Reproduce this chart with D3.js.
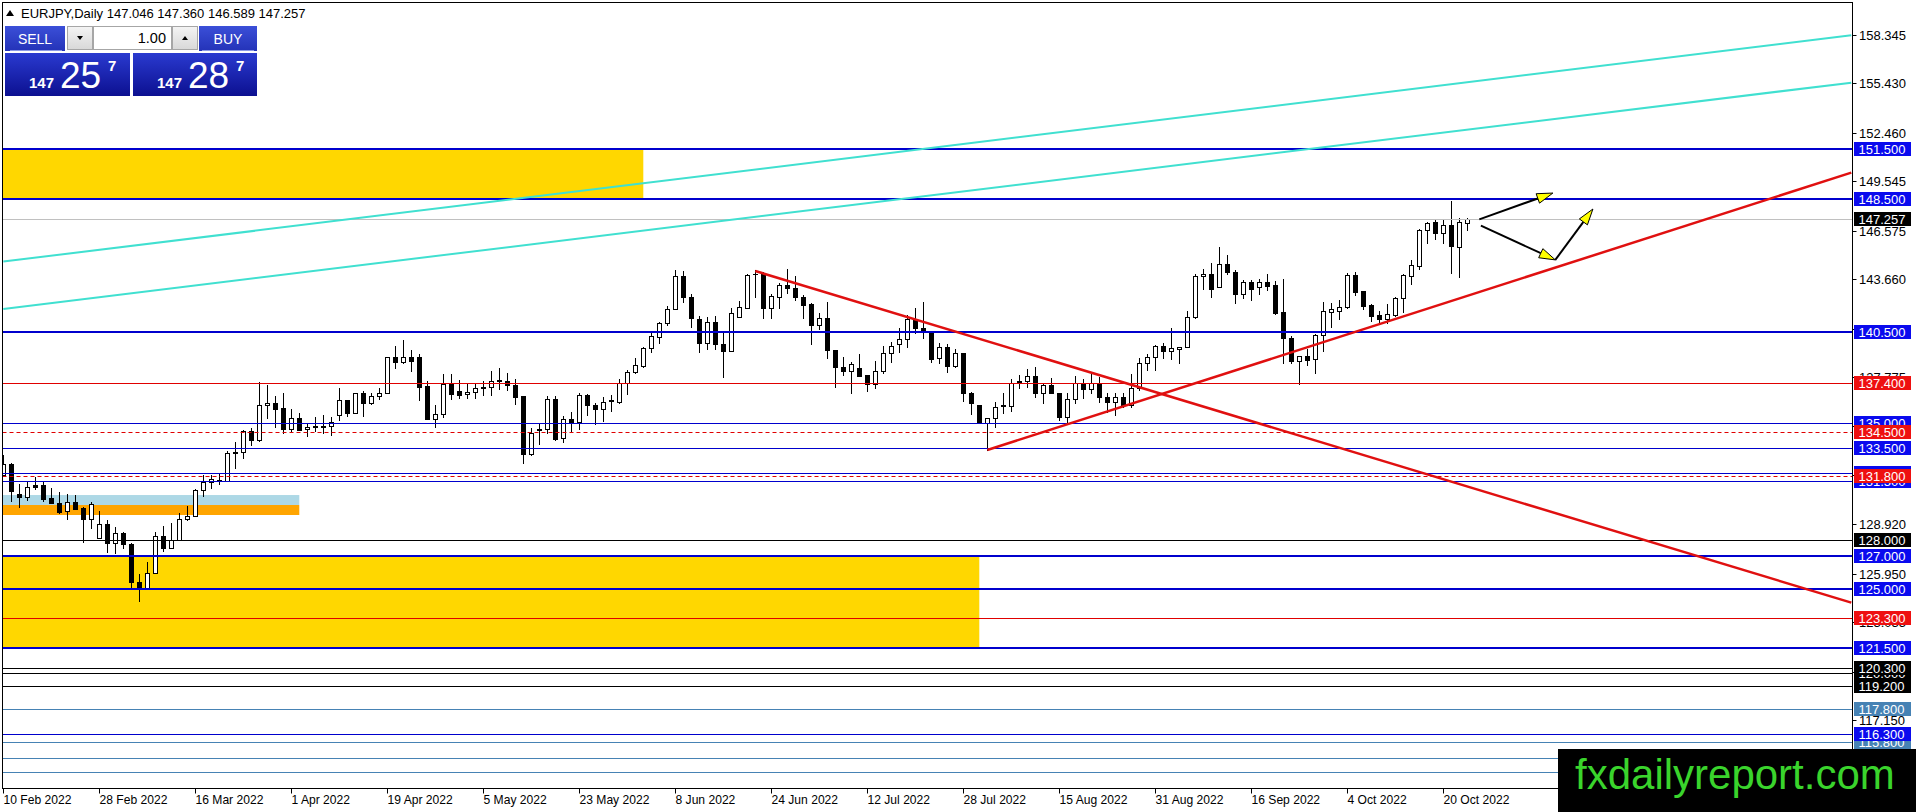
<!DOCTYPE html>
<html><head><meta charset="utf-8">
<script src="https://cdn.jsdelivr.net/npm/d3@7"></script>
<style>
html,body{margin:0;padding:0;background:#fff;overflow:hidden}
svg{display:block}
text{font-family:Tahoma,"Liberation Sans",Arial,sans-serif}
</style></head><body>
<svg id="c" width="1916" height="812"></svg>
<script>
// ---------- DATA ----------
const symbolTitle = "EURJPY,Daily";
const lastOHLC = ["147.046","147.360","146.589","147.257"];
const dateLabels = ["10 Feb 2022","28 Feb 2022","16 Mar 2022","1 Apr 2022","19 Apr 2022","5 May 2022","23 May 2022","8 Jun 2022","24 Jun 2022","12 Jul 2022","28 Jul 2022","15 Aug 2022","31 Aug 2022","16 Sep 2022","4 Oct 2022","20 Oct 2022"];
const barsPerDateLabel = 12;
const priceTicks = [158.345,155.430,152.460,149.545,146.575,143.660,140.690,137.775,134.805,131.890,128.920,125.950,123.035,120.065,117.150];

const opens = [131.89,132.55,130.74,130.54,131.28,131.28,130.5,130.18,129.72,130.26,
129.92,129.22,128.12,128.92,127.78,128.38,127.72,125.47,125.07,125.97,
128.24,127.52,127.98,129.26,129.44,130.98,131.48,131.58,131.55,133.29,
133.25,134.53,133.99,136.08,136.2,135.92,134.63,135.29,134.63,134.83,
134.8,134.83,135.5,136.4,135.63,136.8,136.24,136.66,136.84,138.96,
138.7,139.0,138.96,137.24,135.24,135.54,137.34,136.96,136.76,136.86,
137.16,137.16,137.54,137.52,137.28,136.64,133.13,134.6,134.63,136.44,
134.09,135.24,135.1,136.7,136.1,135.84,136.34,136.3,137.4,138.06,
138.44,139.5,140.2,141.0,141.85,143.85,142.57,141.25,139.8,141.07,
139.74,139.37,141.37,141.9,143.98,144.0,141.95,142.57,143.31,143.11,
142.57,142.17,140.91,141.31,139.4,138.36,138.16,138.34,137.9,137.34,
138.14,139.2,139.74,140.04,141.2,140.7,140.57,138.9,139.6,138.44,
139.2,136.84,136.1,134.99,135.33,136.1,136.06,137.56,137.56,137.84,
136.84,137.3,136.8,135.4,136.44,137.36,137.04,137.36,136.6,136.3,
136.6,136.1,137.1,138.6,139.0,139.64,139.36,139.44,139.56,141.37,
143.85,144.0,143.17,144.57,144.07,142.77,143.47,143.17,143.47,143.3,
141.67,140.15,138.76,139.04,138.84,140.3,141.71,141.77,141.97,143.9,
142.95,142.1,141.5,141.27,141.51,142.51,143.85,144.47,146.62,147.12,
146.42,146.92,145.58,147.046];
const highs = [133.1,132.6,131.34,131.5,131.79,131.48,131.08,130.88,130.74,130.68,
129.98,130.28,129.72,129.18,128.74,128.46,127.78,125.93,126.67,128.44,
128.82,128.98,129.62,130.04,131.02,131.88,131.88,131.99,133.35,133.89,
134.59,134.73,137.5,137.3,136.64,136.8,135.84,135.63,135.03,135.4,
135.5,135.35,137.1,136.4,136.8,136.96,136.84,137.1,139.0,139.64,
140.0,139.4,139.16,137.56,136.1,137.96,137.96,137.6,137.4,137.44,
137.54,138.14,138.3,138.04,137.64,136.64,134.7,134.99,136.66,136.64,
135.44,135.7,136.8,136.74,136.2,136.6,136.7,137.64,138.2,138.9,
139.56,140.4,141.1,142.05,144.2,144.17,142.77,141.45,141.37,141.45,
140.5,141.9,142.35,144.0,144.2,144.1,142.77,143.45,144.27,143.85,
142.71,142.21,141.61,142.31,139.4,139.0,138.7,139.14,137.9,138.76,
139.64,139.9,140.7,141.5,141.9,142.3,140.57,139.8,139.76,139.44,
139.24,136.9,136.1,135.33,136.3,136.84,137.64,137.9,138.24,138.4,
137.4,137.7,136.84,136.84,137.84,137.64,137.96,137.8,136.84,136.8,
136.8,137.96,138.9,139.16,139.7,139.8,140.7,139.6,141.77,144.0,
144.25,144.65,145.58,145.12,144.2,143.6,143.6,143.65,144.0,143.57,
143.65,140.25,139.04,139.44,140.37,142.3,142.25,142.4,144.05,144.1,
142.95,142.15,141.77,142.17,142.57,144.0,144.8,146.66,147.12,147.22,
147.22,148.36,147.32,147.36];
const lows = [131.8,130.34,129.98,130.38,131.06,130.32,130.18,129.62,129.26,129.86,
127.88,128.68,128.12,127.28,127.22,127.48,125.17,124.33,125.07,125.97,
127.34,127.48,127.98,129.18,129.44,130.64,131.12,131.32,131.55,132.29,
132.89,133.69,133.95,135.3,134.8,134.43,134.55,134.59,134.23,134.55,
134.4,134.29,135.2,135.43,135.63,135.43,136.16,136.44,136.8,138.34,
138.6,138.16,136.4,135.24,134.75,135.35,136.44,136.5,136.52,136.54,
136.7,136.68,137.04,137.0,136.16,132.63,133.09,133.75,134.43,133.99,
133.89,134.5,134.63,135.5,134.93,135.16,135.76,136.2,136.74,138.04,
138.36,139.3,139.8,140.9,141.85,142.3,140.77,139.3,139.44,139.44,
137.8,139.37,141.37,141.9,142.6,141.35,141.35,141.95,142.81,142.41,
141.31,139.74,140.65,138.9,137.2,137.9,136.8,137.84,136.96,137.1,
138.0,138.7,139.3,139.6,140.4,140.1,138.7,138.6,138.06,138.4,
136.34,135.56,134.99,133.39,134.8,135.6,135.75,137.1,137.2,136.56,
136.24,136.8,135.2,135.1,136.2,136.5,136.8,136.3,135.7,135.5,
136.0,136.0,137.0,138.2,138.2,138.9,138.84,138.64,139.56,141.3,
143.1,142.57,143.17,144.0,142.25,142.5,142.4,142.77,143.0,141.57,
138.64,138.64,137.36,138.5,138.0,139.37,140.77,141.27,141.9,142.7,
141.85,141.17,141.07,141.0,141.45,141.7,143.37,144.27,145.82,146.06,
145.82,144.05,143.77,146.589];
const closes = [132.55,130.94,130.54,131.18,131.18,130.46,130.18,129.68,130.26,129.86,
129.22,130.14,128.92,127.78,128.38,127.72,125.47,125.07,125.97,128.24,
127.52,127.98,129.26,129.44,130.98,131.48,131.62,131.55,133.23,133.19,
134.53,133.99,136.08,136.2,135.88,134.63,135.29,134.59,134.79,134.75,
134.83,135.09,136.4,135.63,136.8,136.24,136.66,136.84,138.96,138.7,
139.0,138.76,137.16,135.24,135.54,137.34,136.76,136.72,136.88,137.1,
137.1,137.56,137.6,137.28,136.6,133.13,134.43,134.66,136.44,134.05,
135.24,135.04,136.7,136.1,135.84,136.3,136.38,137.44,138.08,138.48,
139.52,140.24,141.0,141.85,143.85,142.57,141.31,139.8,141.07,139.74,
139.37,141.61,141.97,143.9,143.95,141.95,142.65,143.3,143.11,142.57,
142.11,140.91,141.31,139.4,138.36,138.16,138.54,137.84,137.34,138.14,
139.2,139.64,140.04,141.25,140.7,140.47,138.84,139.6,138.46,139.2,
136.84,136.2,134.99,135.33,135.99,136.06,137.4,137.5,137.84,136.84,
137.3,136.8,135.4,136.44,137.4,137.04,137.44,136.6,136.3,136.6,
136.1,137.1,138.6,139.0,139.64,139.36,139.52,139.6,141.37,143.85,
144.0,143.1,144.57,144.07,142.77,143.47,143.1,143.47,143.27,141.65,
140.1,138.76,139.04,138.8,140.3,141.75,141.87,142.0,143.9,142.9,
142.05,141.47,141.27,141.55,142.51,143.9,144.5,146.62,147.06,146.42,
146.92,145.68,147.08,147.257];

// horizontal levels by kind
const blueThickLevels = [151.5,148.5,140.5,127,125,121.5];
const blueThinLevels = [135,133.5,132,131.5,116.3];
const redLevels = [137.4,123.3];
const redDashedLevels = [134.5,131.8];
const blackLevels = [128,120.0,120.3,119.2];
const steelLevels = [117.8,115.8,114.85,114.0];
const steelLabelled = [117.8,115.8];
const currentPrice = 147.257;

// zones: [fromBar, toBar, topPrice, bottomPrice]
const goldZones = [[-2,80,151.5,148.5],[-2,122,127.0,121.5]];
const lightBlueZone = [-2,37,130.68,130.08];
const orangeZone = [-2,37,130.08,129.48];

// trend lines: [[bar, price],[bar, price]]
const tealLines = [[[0,144.72],[231,158.33]],[[0,141.87],[231,155.48]]];
const redTrendLines = [[[94,144.15],[231,124.21]],[[123,133.39],[231,150.07]]];
const arrows = [[[184.5,147.26],[193.7,148.84]],[[184.7,146.88],[194.0,144.82]],[[194.0,144.82],[198.7,147.88]]];

// trade panel
const sellPrice = ["147","25","7"];
const buyPrice = ["147","28","7"];
const lotSize = "1.00";
const watermark = "fxdailyreport.com";

// ---------- DRAW ----------
const svg = d3.select("#c");
const L = 2.5, T = 2.5, R = 1852.5, B = 788.5;
const x = d3.scaleLinear().domain([0, 231]).range([3.3, 1851.3]);
const y = d3.scaleLinear().domain([158.345, 128.92]).range([35, 524.3]);
const px = v => Math.round(v) + 0.5;

svg.append("rect").attr("width",1916).attr("height",812).attr("fill","#fff");
svg.append("defs").append("clipPath").attr("id","plot")
  .append("rect").attr("x",L).attr("y",T).attr("width",R-L).attr("height",B-T);

const plot = svg.append("g").attr("clip-path","url(#plot)");

// zones
goldZones.forEach(z => plot.append("rect")
  .attr("x", x(z[0])).attr("y", y(z[2])).attr("width", x(z[1]) - x(z[0])).attr("height", y(z[3]) - y(z[2]))
  .attr("fill","#FFD700"));
[[lightBlueZone,"#ADD8E6"],[orangeZone,"#FFA500"]].forEach(([z,c]) => plot.append("rect")
  .attr("x", x(z[0])).attr("y", y(z[2])).attr("width", x(z[1]) - x(z[0])).attr("height", y(z[3]) - y(z[2]))
  .attr("fill", c));

// candles
const bars = d3.range(opens.length).map(i => ({i, o:opens[i], h:highs[i], l:lows[i], c:closes[i]}));
const cg = plot.append("g");
bars.forEach(b => {
  const cx = px(x(b.i));
  cg.append("line").attr("x1",cx).attr("x2",cx)
    .attr("y1", Math.round(y(b.h))).attr("y2", Math.round(y(b.l)) + 1)
    .attr("stroke","#000").attr("stroke-width",1);
  const top = Math.round(y(Math.max(b.o,b.c))) + 0.5;
  const bot = Math.round(y(Math.min(b.o,b.c))) + 0.5;
  if (bot - top < 1) {
    cg.append("line").attr("x1",cx-2.5).attr("x2",cx+2.5).attr("y1",top).attr("y2",top)
      .attr("stroke","#000").attr("stroke-width",1);
  } else {
    cg.append("rect").attr("x",cx-2).attr("y",top).attr("width",4).attr("height",bot-top)
      .attr("fill", b.c >= b.o ? "#fff" : "#000").attr("stroke","#000").attr("stroke-width",1);
  }
});

// horizontal lines
const hl = (levels, color, w, dash) => levels.forEach(p => {
  const yy = w % 2 === 1 ? px(y(p)) : Math.round(y(p));
  plot.append("line").attr("x1",L).attr("x2",R).attr("y1",yy).attr("y2",yy)
    .attr("stroke",color).attr("stroke-width",w).attr("stroke-dasharray",dash||null);
});
hl([currentPrice], "#c0c0c0", 1);
hl(steelLevels, "#4682b4", 1);
hl(blackLevels, "#000", 1);
hl(blueThinLevels, "#0000cd", 1);
hl(blueThickLevels, "#0000cd", 2);
hl(redLevels, "#e00000", 1);
hl(redDashedLevels, "#e00000", 1, "4,3");

// trend lines
const lineGen = d3.line().x(d => x(d[0])).y(d => y(d[1]));
tealLines.forEach(l => plot.append("path").attr("d", lineGen(l)).attr("fill","none")
  .attr("stroke","#40E0D0").attr("stroke-width",2));
redTrendLines.forEach(l => plot.append("path").attr("d", lineGen(l)).attr("fill","none")
  .attr("stroke","#e01010").attr("stroke-width",2.5));

// arrows
arrows.forEach(a => {
  const x1 = x(a[0][0]), y1 = y(a[0][1]), x2 = x(a[1][0]), y2 = y(a[1][1]);
  const dx = x2-x1, dy = y2-y1, len = Math.hypot(dx,dy), ux = dx/len, uy = dy/len;
  const hl_ = 16, hw = 5;
  const bx = x2 - ux*hl_, by = y2 - uy*hl_;
  plot.append("line").attr("x1",x1).attr("y1",y1).attr("x2",bx).attr("y2",by)
    .attr("stroke","#000").attr("stroke-width",2);
  plot.append("path").attr("d", `M${x2},${y2}L${bx - uy*hw},${by + ux*hw}L${bx + uy*hw},${by - ux*hw}Z`)
    .attr("fill","#ffff00").attr("stroke","#000").attr("stroke-width",1);
});

// frame
svg.append("rect").attr("x",L).attr("y",T).attr("width",R-L).attr("height",B-T)
  .attr("fill","none").attr("stroke","#000").attr("stroke-width",1);

// price axis ticks
const axisG = svg.append("g");
priceTicks.forEach(p => {
  const yy = px(y(p));
  axisG.append("line").attr("x1",R).attr("x2",R+4).attr("y1",yy).attr("y2",yy).attr("stroke","#000");
  axisG.append("text").attr("x",1859).attr("y",yy+4.5).attr("font-size",13).attr("fill","#000").text(p.toFixed(3));
});

// date axis
dateLabels.forEach((lab, k) => {
  const xx = px(x(k * barsPerDateLabel));
  axisG.append("line").attr("x1",xx).attr("x2",xx).attr("y1",B).attr("y2",B+5).attr("stroke","#000");
  axisG.append("text").attr("x",xx).attr("y",804).attr("font-size",12.1).attr("fill","#000").text(lab);
});

// level labels
const lab = (levels, bg) => levels.forEach(p => {
  const yy = y(p);
  axisG.append("rect").attr("x",1854).attr("y",Math.round(yy)-7).attr("width",57).attr("height",14).attr("fill",bg);
  axisG.append("text").attr("x",1858.5).attr("y",Math.round(yy)+4.7).attr("font-size",13).attr("fill","#fff").text(p.toFixed(3));
});
lab(steelLabelled, "#4682b4");
lab([120.0,119.2,128,120.3], "#000");
lab(blueThinLevels.slice().reverse(), "#0a0aee");
lab(blueThickLevels, "#0a0aee");
lab(redLevels, "#ee1010");
lab(redDashedLevels, "#ee1010");
lab([currentPrice], "#000");

// watermark
svg.append("rect").attr("x",1558).attr("y",749).attr("width",358).attr("height",63).attr("fill","#000");
svg.append("text").attr("x",1575).attr("y",789).attr("font-size",42).attr("fill","#3ad42c")
  .style("font-family","'Liberation Sans',Arial,sans-serif").text(watermark);

// header
const hdr = svg.append("g");
hdr.append("path").attr("d","M6,16L10,10L14,16Z").attr("fill","#000");
hdr.append("text").attr("x",21).attr("y",18).attr("font-size",13).attr("fill","#000")
  .text(symbolTitle + "  " + lastOHLC.join(" "));

// trade panel
const defs = svg.select("defs");
const gr = defs.append("linearGradient").attr("id","pbox").attr("x1",0).attr("x2",0).attr("y1",0).attr("y2",1);
gr.append("stop").attr("offset","0%").attr("stop-color","#2a3ad0");
gr.append("stop").attr("offset","100%").attr("stop-color","#0c1090");
const gb = defs.append("linearGradient").attr("id","btn").attr("x1",0).attr("x2",0).attr("y1",0).attr("y2",1);
gb.append("stop").attr("offset","0%").attr("stop-color","#3b4fd8");
gb.append("stop").attr("offset","100%").attr("stop-color","#2433b8");
const ga = defs.append("linearGradient").attr("id","gbtn").attr("x1",0).attr("x2",0).attr("y1",0).attr("y2",1);
ga.append("stop").attr("offset","0%").attr("stop-color","#f4f4f4");
ga.append("stop").attr("offset","100%").attr("stop-color","#d8d8d8");

const tp = svg.append("g");
tp.append("rect").attr("x",3).attr("y",24).attr("width",256).attr("height",73).attr("fill","#fff");
// SELL / BUY buttons
tp.append("rect").attr("x",5).attr("y",26).attr("width",60).attr("height",25).attr("fill","url(#btn)");
tp.append("rect").attr("x",199).attr("y",26).attr("width",58).attr("height",25).attr("fill","url(#btn)");
tp.append("line").attr("x1",10).attr("x2",62).attr("y1",50.5).attr("y2",50.5).attr("stroke","#8c9ae6");
tp.append("line").attr("x1",202).attr("x2",254).attr("y1",50.5).attr("y2",50.5).attr("stroke","#8c9ae6");
tp.append("text").attr("x",35).attr("y",44).attr("text-anchor","middle").attr("font-size",14).attr("fill","#fff").text("SELL");
tp.append("text").attr("x",228).attr("y",44).attr("text-anchor","middle").attr("font-size",14).attr("fill","#fff").text("BUY");
// lot controls
tp.append("rect").attr("x",67.5).attr("y",26.5).attr("width",25).attr("height",23).attr("fill","url(#gbtn)").attr("stroke","#a6a6a6");
tp.append("rect").attr("x",93.5).attr("y",26.5).attr("width",78).attr("height",23).attr("fill","#fff").attr("stroke","#a6a6a6");
tp.append("rect").attr("x",172.5).attr("y",26.5).attr("width",25).attr("height",23).attr("fill","url(#gbtn)").attr("stroke","#a6a6a6");
tp.append("path").attr("d","M77,36L83,36L80,40Z").attr("fill","#000");
tp.append("path").attr("d","M182,40L188,40L185,36Z").attr("fill","#000");
tp.append("text").attr("x",166).attr("y",43).attr("text-anchor","end").attr("font-size",14.5).attr("fill","#000").text(lotSize);
// price boxes
const pbox = (x0, w, parts, tx) => {
  tp.append("rect").attr("x",x0).attr("y",53).attr("width",w).attr("height",43).attr("fill","url(#pbox)");
  tp.append("text").attr("x",tx).attr("y",88).attr("font-size",15).attr("font-weight","bold").attr("fill","#fff").text(parts[0]);
  tp.append("text").attr("x",tx+31).attr("y",88).attr("font-size",37).attr("fill","#fff").text(parts[1]);
  tp.append("text").attr("x",tx+79).attr("y",71).attr("font-size",15).attr("font-weight","bold").attr("fill","#fff").text(parts[2]);
};
pbox(5, 125, sellPrice, 29);
pbox(133, 124, buyPrice, 157);
</script>
</body></html>
